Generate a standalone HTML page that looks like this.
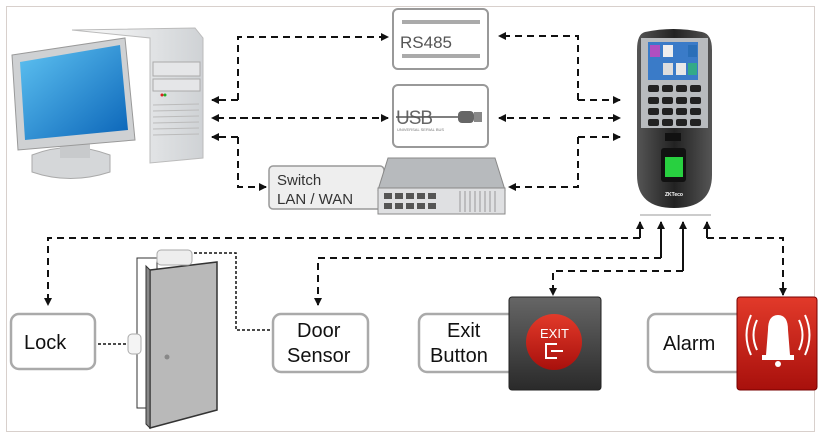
<!DOCTYPE html>
<html><head><meta charset="utf-8"><style>
html,body{margin:0;padding:0;background:#fff;}
svg{display:block;font-family:"Liberation Sans",sans-serif;}
</style></head><body>
<svg width="825" height="439" viewBox="0 0 825 439" xmlns="http://www.w3.org/2000/svg">
<defs>
<marker id="a" markerWidth="8" markerHeight="8" refX="7" refY="4" orient="auto" markerUnits="userSpaceOnUse"><path d="M0,0 L8,4 L0,8 z" fill="#111"/></marker>
<linearGradient id="scr" x1="0" y1="0" x2="1" y2="1"><stop offset="0" stop-color="#5fc3f2"/><stop offset="1" stop-color="#0a64b8"/></linearGradient>
<linearGradient id="tw" x1="0" y1="0" x2="1" y2="0"><stop offset="0" stop-color="#fdfdfd"/><stop offset="1" stop-color="#cfd2d5"/></linearGradient>
<linearGradient id="dev" x1="0" y1="0" x2="1" y2="0"><stop offset="0" stop-color="#555"/><stop offset=".5" stop-color="#222"/><stop offset="1" stop-color="#555"/></linearGradient>
<linearGradient id="blk" x1="0" y1="0" x2="0" y2="1"><stop offset="0" stop-color="#666"/><stop offset="1" stop-color="#2a2a2a"/></linearGradient>
<linearGradient id="red" x1="0" y1="0" x2="0" y2="1"><stop offset="0" stop-color="#e23a2a"/><stop offset="1" stop-color="#a8100c"/></linearGradient>
</defs>
<rect x="6.5" y="6.5" width="808" height="425" fill="#fff" stroke="#d8d0cc"/>

<!-- computer -->
<path d="M72,30 L195,28 L203,38 L203,158 L150,163 L150,38 Z" fill="url(#tw)" stroke="#bbb"/>
<rect x="153" y="62" width="47" height="14" fill="#e5e6e8" stroke="#aaa"/>
<rect x="153" y="79" width="47" height="12" fill="#e5e6e8" stroke="#aaa"/>
<g stroke="#bbb"><line x1="153" y1="105" x2="199" y2="104"/><line x1="153" y1="111" x2="199" y2="110"/><line x1="153" y1="117" x2="199" y2="116"/><line x1="153" y1="123" x2="199" y2="122"/><line x1="153" y1="129" x2="199" y2="128"/><line x1="153" y1="135" x2="199" y2="134"/></g>
<circle cx="162" cy="95" r="1.5" fill="#d22"/><circle cx="165" cy="95" r="1.5" fill="#2a2"/>
<path d="M32,155 Q70,140 110,155 L110,172 Q70,185 32,172 Z" fill="#d5d7d9" stroke="#aaa"/>
<rect x="60" y="138" width="30" height="20" fill="#c8cacc"/>
<path d="M12,55 L125,38 L135,140 L18,150 Z" fill="#cfd1d3" stroke="#999"/>
<path d="M20,62 L120,45 L128,130 L25,140 Z" fill="url(#scr)"/>

<!-- RS485 / USB -->
<rect x="393" y="9" width="95" height="60" rx="5" fill="#fff" stroke="#999" stroke-width="2"/>
<rect x="402" y="20" width="78" height="4" fill="#aaa"/><rect x="402" y="54" width="78" height="4" fill="#aaa"/>
<text x="400" y="48" font-size="17" fill="#555">RS485</text>
<rect x="393" y="85" width="95" height="62" rx="5" fill="#fff" stroke="#999" stroke-width="2"/>
<text x="396" y="124" font-size="19" fill="#666" letter-spacing="-1">USB</text>
<line x1="396" y1="117" x2="460" y2="117" stroke="#555" stroke-width="1.5"/>
<rect x="458" y="111" width="16" height="12" rx="4" fill="#666"/><rect x="474" y="112" width="8" height="10" fill="#888"/>
<text x="397" y="131" font-size="4" fill="#777">UNIVERSAL SERIAL BUS</text>

<!-- switch -->
<rect x="269" y="166" width="115" height="43" rx="4" fill="#eee" stroke="#999" stroke-width="1.5"/>
<text x="277" y="185" font-size="15" fill="#333">Switch</text>
<text x="277" y="204" font-size="15" fill="#333">LAN / WAN</text>
<path d="M388,158 L495,158 L505,190 L378,190 Z" fill="#b7babd" stroke="#888"/>
<rect x="378" y="188" width="127" height="26" fill="#dfe0e2" stroke="#888"/>
<g fill="#555"><rect x="384" y="193" width="8" height="6"/><rect x="395" y="193" width="8" height="6"/><rect x="406" y="193" width="8" height="6"/><rect x="417" y="193" width="8" height="6"/><rect x="428" y="193" width="8" height="6"/><rect x="384" y="203" width="8" height="6"/><rect x="395" y="203" width="8" height="6"/><rect x="406" y="203" width="8" height="6"/><rect x="417" y="203" width="8" height="6"/><rect x="428" y="203" width="8" height="6"/></g>
<g stroke="#999"><line x1="460" y1="191" x2="460" y2="212"/><line x1="465" y1="191" x2="465" y2="212"/><line x1="470" y1="191" x2="470" y2="212"/><line x1="475" y1="191" x2="475" y2="212"/><line x1="480" y1="191" x2="480" y2="212"/><line x1="485" y1="191" x2="485" y2="212"/><line x1="490" y1="191" x2="490" y2="212"/><line x1="495" y1="191" x2="495" y2="212"/></g>

<!-- device -->
<path d="M645,32 Q673,26 702,32 Q712,34 712,50 L712,175 Q712,208 674,208 Q637,208 637,175 L637,50 Q637,34 645,32 Z" fill="url(#dev)"/>
<path d="M641,38 L708,38 L708,128 L641,128 Z" fill="#b8bbbe"/>
<rect x="648" y="42" width="50" height="38" fill="#3a7bc8"/>
<rect x="650" y="45" width="10" height="12" fill="#b04fc0"/><rect x="663" y="45" width="10" height="12" fill="#eee"/><rect x="688" y="45" width="9" height="12" fill="#2a6fb8"/><rect x="663" y="63" width="10" height="12" fill="#ddd"/><rect x="676" y="63" width="10" height="12" fill="#e8e8e8"/><rect x="688" y="63" width="9" height="12" fill="#3a8"/>
<g fill="#222"><rect x="648" y="85" width="11" height="7" rx="2"/><rect x="662" y="85" width="11" height="7" rx="2"/><rect x="676" y="85" width="11" height="7" rx="2"/><rect x="690" y="85" width="11" height="7" rx="2"/><rect x="648" y="97" width="11" height="7" rx="2"/><rect x="662" y="97" width="11" height="7" rx="2"/><rect x="676" y="97" width="11" height="7" rx="2"/><rect x="690" y="97" width="11" height="7" rx="2"/><rect x="648" y="108" width="11" height="7" rx="2"/><rect x="662" y="108" width="11" height="7" rx="2"/><rect x="676" y="108" width="11" height="7" rx="2"/><rect x="690" y="108" width="11" height="7" rx="2"/><rect x="648" y="119" width="11" height="7" rx="2"/><rect x="662" y="119" width="11" height="7" rx="2"/><rect x="676" y="119" width="11" height="7" rx="2"/><rect x="690" y="119" width="11" height="7" rx="2"/></g>
<rect x="665" y="133" width="16" height="8" fill="#111"/>
<rect x="661" y="148" width="25" height="34" rx="3" fill="#111"/>
<rect x="665" y="157" width="18" height="20" fill="#28d040"/>
<text x="665" y="196" font-size="5" fill="#fff" font-weight="bold">ZKTeco</text>

<!-- connectors top -->
<g stroke="#111" stroke-width="2" stroke-dasharray="7,5" fill="none">
<polyline points="238,100 238,37 388,37" marker-end="url(#a)"/>
<line x1="238" y1="100" x2="212" y2="100" marker-end="url(#a)"/>
<line x1="260" y1="118" x2="212" y2="118" marker-end="url(#a)"/>
<line x1="240" y1="118" x2="388" y2="118" marker-end="url(#a)"/>
<line x1="238" y1="137" x2="212" y2="137" marker-end="url(#a)"/>
<polyline points="238,137 238,187 266,187" marker-end="url(#a)"/>
<polyline points="578,100 578,36 499,36" marker-end="url(#a)"/>
<line x1="578" y1="100" x2="620" y2="100" marker-end="url(#a)"/>
<line x1="550" y1="118" x2="499" y2="118" marker-end="url(#a)"/>
<line x1="560" y1="118" x2="620" y2="118" marker-end="url(#a)"/>
<line x1="578" y1="137" x2="620" y2="137" marker-end="url(#a)"/>
<polyline points="578,137 578,187 509,187" marker-end="url(#a)"/>
</g>
<line x1="640" y1="215" x2="711" y2="215" stroke="#999"/>
<!-- connectors bottom -->
<g stroke="#111" stroke-width="2" stroke-dasharray="7,5" fill="none">
<polyline points="640,238 48,238 48,305" marker-end="url(#a)"/>
<polyline points="661,258 318,258 318,305" marker-end="url(#a)"/>
<polyline points="683,271 553,271 553,295" marker-end="url(#a)"/>
<polyline points="707,238 783,238 783,295" marker-end="url(#a)"/>
</g>
<g stroke="#111" stroke-width="2" fill="none">
<line x1="640" y1="238" x2="640" y2="222" marker-end="url(#a)"/>
<line x1="661" y1="258" x2="661" y2="222" marker-end="url(#a)"/>
<line x1="683" y1="271" x2="683" y2="222" marker-end="url(#a)"/>
<line x1="707" y1="238" x2="707" y2="222" marker-end="url(#a)"/>
</g>
<g stroke="#111" stroke-width="1.5" stroke-dasharray="3,2" fill="none">
<polyline points="194,253 236,253 236,330 270,330"/>
<line x1="98" y1="344" x2="128" y2="344"/>
</g>

<!-- door -->
<rect x="137" y="258" width="20" height="150" fill="#fff" stroke="#333"/>
<path d="M150,270 L217,262 L217,410 L150,428 Z" fill="#b9b9b9" stroke="#333" stroke-width="1.5"/>
<path d="M146,266 L150,270 L150,428 L146,424 Z" fill="#888" stroke="#333"/>
<circle cx="167" cy="357" r="2.5" fill="#888"/>
<rect x="157" y="250" width="35" height="15" rx="4" fill="#eee" stroke="#aaa"/>
<rect x="128" y="334" width="13" height="20" rx="4" fill="#f4f4f4" stroke="#aaa"/>

<!-- bottom boxes -->
<g fill="#fff" stroke="#aaa" stroke-width="2.5">
<rect x="11" y="314" width="84" height="55" rx="8"/>
<rect x="273" y="314" width="95" height="58" rx="8"/>
<rect x="419" y="314" width="98" height="58" rx="8"/>
<rect x="648" y="314" width="96" height="58" rx="8"/>
</g>
<g font-size="20" fill="#111">
<text x="24" y="349">Lock</text>
<text x="297" y="337">Door</text>
<text x="287" y="362">Sensor</text>
<text x="447" y="337">Exit</text>
<text x="430" y="362">Button</text>
<text x="663" y="350">Alarm</text>
</g>
<rect x="509" y="297" width="92" height="93" rx="3" fill="url(#blk)" stroke="#222"/>
<circle cx="554" cy="342" r="28" fill="url(#red)"/>
<text x="540" y="338" font-size="13" fill="#fff">EXIT</text>
<path d="M557,344 L546,344 L546,358 L557,358" stroke="#fff" stroke-width="2" fill="none"/><path d="M551,351 L563,351" stroke="#fff" stroke-width="2"/>
<rect x="737" y="297" width="80" height="93" rx="3" fill="url(#red)" stroke="#700"/>
<path d="M768,330 Q768,315 778,315 Q788,315 788,330 L790,355 L766,355 Z" fill="#fff"/>
<rect x="762" y="355" width="32" height="5" fill="#fff"/><circle cx="778" cy="364" r="3" fill="#fff"/>
<g stroke="#fff" stroke-width="2" fill="none"><path d="M757,320 Q750,335 757,350"/><path d="M751,315 Q742,335 751,355"/><path d="M799,320 Q806,335 799,350"/><path d="M805,315 Q814,335 805,355"/></g>
</svg>
</body></html>
